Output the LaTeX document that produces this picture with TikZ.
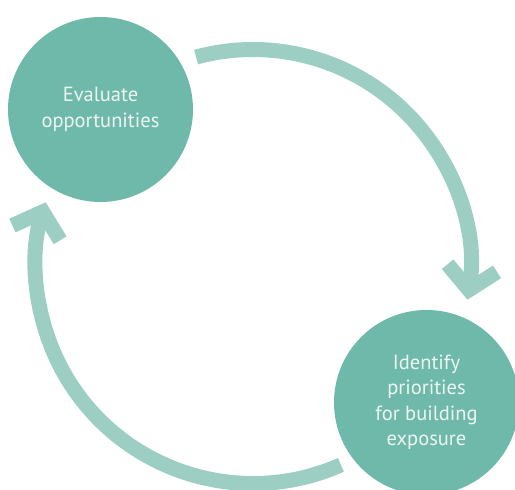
\documentclass[tikz,border=0pt]{standalone}
\usepackage{fontspec}
\setmainfont{PT Sans}
\usetikzlibrary{arrows.meta}
\definecolor{tealdark}{RGB}{111,185,171}
\definecolor{teallight}{RGB}{156,206,196}
\definecolor{paletext}{RGB}{238,246,242}

\begin{document}
\begin{tikzpicture}[line cap=butt,line join=miter,x=1pt,y=1pt,
  stage/.style={circle,fill=tealdark,minimum size=185pt,inner sep=0pt,text=paletext,align=center,font=\fontsize{20.5}{25.5}\selectfont},
  cyclearc/.style={draw=teallight,line width=15pt,-{Straight Barb[length=22pt,width=50pt]}}]
  \useasboundingbox (0,0) rectangle (515,490);
  \node[stage] (eval) at (100.5,380.5) {Evaluate\\opportunities};
  \node[stage] (ident) at (426.5,87.5) {Identify\\priorities\\for building\\exposure};
  \coordinate (hub) at (253,223.5);
  \coordinate (topstart) at ([shift={(105.2:217)}]hub);
  \coordinate (botstart) at ([shift={(-66.1:217)}]hub);
  \draw[cyclearc] (topstart) arc[start angle=105.2,end angle=-8.8,radius=217];
  \draw[cyclearc] (botstart) arc[start angle=-66.1,end angle=-197.2,radius=217];
\end{tikzpicture}
\end{document}
